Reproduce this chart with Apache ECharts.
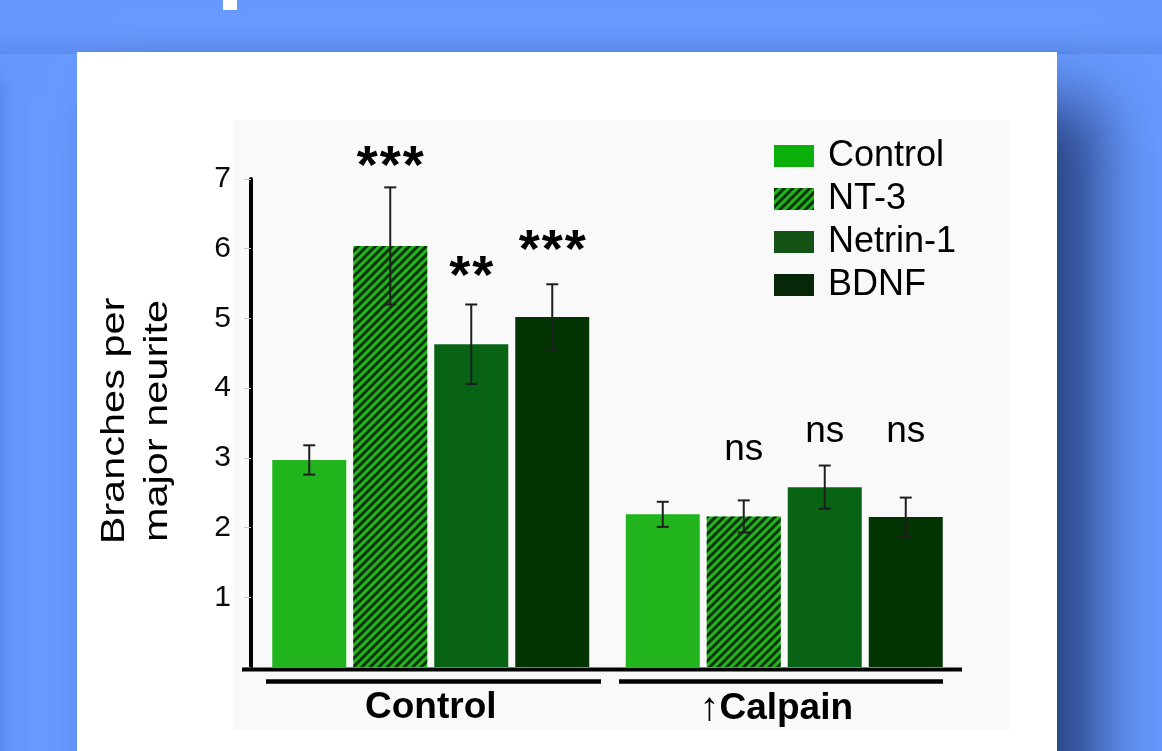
<!DOCTYPE html>
<html>
<head>
<meta charset="utf-8">
<script src="https://cdn.jsdelivr.net/npm/echarts@6/dist/echarts.min.js"></script>
<style>
  html, body { margin: 0; padding: 0; background: #6699ff; }
  #chart { width: 1162px; height: 751px; }
</style>
</head>
<body>
<div id="chart"></div>
<script>
// ---- data ----
const groups = ['Control', '↑Calpain'];
const treatments = ['Control', 'NT-3', 'Netrin-1', 'BDNF'];

const controlMeans = [2.97, 2.19];
const nt3Means     = [6.04, 2.16];
const netrinMeans  = [4.63, 2.58];
const bdnfMeans    = [5.02, 2.15];

const controlErr = [0.21, 0.18];
const nt3Err     = [0.84, 0.23];
const netrinErr  = [0.57, 0.31];
const bdnfErr    = [0.47, 0.28];

const controlSig = ['', ''];
const nt3Sig     = ['***', 'ns'];
const netrinSig  = ['**', 'ns'];
const bdnfSig    = ['***', 'ns'];

const yTicks = [1, 2, 3, 4, 5, 6, 7];

// ---- layout ----
const FONT = "'Liberation Sans', Arial, Helvetica, sans-serif";
const W = 1162, H = 751;
const GRID_L = 254, GRID_R = 961, GRID_T = 179, GRID_B = 667;
const BAR_W = 74, BAR_GAP = 7;
const STEP = BAR_W + BAR_GAP;
const STAR_PITCH = 23;
// heights (axis units) at which the significance marks sit
const SIG_Y = [[0, 0], [7.15, 3.12], [5.58, 3.37], [5.95, 3.37]];

const colors = ['#22b41c', '#22b41c', '#086414', '#033403'];
const legendColors = ['#0aaf0a', '#22b41c', '#155215', '#062806'];
const hatch = {
  symbol: 'rect', symbolSize: 1,
  dashArrayX: [1, 0], dashArrayY: [3, 3],
  rotation: -Math.PI / 4,
  color: 'rgba(12,40,12,0.92)'
};

const meansList = [controlMeans, nt3Means, netrinMeans, bdnfMeans];
const errList = [controlErr, nt3Err, netrinErr, bdnfErr];
const sigList = [controlSig, nt3Sig, netrinSig, bdnfSig];

const barSeries = treatments.map((name, k) => ({
  name, type: 'bar', barWidth: BAR_W, barGap: (BAR_GAP / BAR_W * 100) + '%',
  data: meansList[k],
  itemStyle: Object.assign({ color: colors[k] }, k === 1 ? { decal: hatch } : {}),
  z: 2
}));

const errSeries = treatments.map((name, k) => ({
  type: 'custom', name: name + ' err', z: 5, silent: true,
  encode: { x: 0, y: 1 },
  data: meansList[k].map((m, i) => [i, m, errList[k][i]]),
  renderItem: (params, api) => {
    const cat = api.value(0), m = api.value(1), e = api.value(2);
    const x = api.coord([cat, m])[0] + (k - 1.5) * STEP;
    const top = api.coord([cat, m + e])[1];
    const bot = api.coord([cat, m - e])[1];
    const ls = { stroke: '#1e1e1e', lineWidth: 2 };
    const children = [
      { type: 'line', shape: { x1: x, y1: top, x2: x, y2: bot }, style: ls },
      { type: 'line', shape: { x1: x - 6, y1: top, x2: x + 6, y2: top }, style: ls },
      { type: 'line', shape: { x1: x - 6, y1: bot, x2: x + 6, y2: bot }, style: ls }
    ];
    const s = sigList[k][params.dataIndex];
    if (s) {
      const y = api.coord([cat, SIG_Y[k][params.dataIndex]])[1];
      if (s.charAt(0) === '*') {
        // asterisks set one by one for wider spacing
        for (let j = 0; j < s.length; j++) {
          children.push({
            type: 'text', x: x + (j - (s.length - 1) / 2) * STAR_PITCH, y: y,
            style: { text: '*', fill: '#000', align: 'center', verticalAlign: 'middle',
              font: 'bold 54px ' + FONT }
          });
        }
      } else {
        children.push({
          type: 'text', x: x, y: y,
          style: { text: s, fill: '#000', align: 'center', verticalAlign: 'middle',
            font: '37px ' + FONT }
        });
      }
    }
    return { type: 'group', children };
  }
}));

const chart = echarts.init(document.getElementById('chart'));
chart.setOption({
  animation: false,
  backgroundColor: '#6699ff',
  textStyle: { fontFamily: FONT },
  grid: { left: GRID_L, right: W - GRID_R, top: GRID_T, bottom: H - GRID_B, containLabel: false },
  legend: {
    orient: 'vertical', left: 774, top: 137, padding: 0,
    itemWidth: 40, itemHeight: 22, itemGap: 5,
    icon: 'rect',
    textStyle: { fontSize: 36, color: '#000', fontFamily: FONT, lineHeight: 38, padding: [0, 0, 0, 9] },
    data: treatments.map((n, k) => ({ name: n, itemStyle: { color: legendColors[k] } }))
  },
  xAxis: {
    type: 'category', data: groups,
    axisLine: { show: false }, axisTick: { show: false },
    axisLabel: {
      margin: 22,
      formatter: v => v.charAt(0) === '↑' ? '{arr|↑}{bc|' + v.slice(1) + '}' : '{b|' + v + '}',
      rich: {
        b: { fontSize: 37, fontWeight: 'bold', color: '#000', fontFamily: FONT },
        bc: { fontSize: 37, fontWeight: 'bold', color: '#000', fontFamily: FONT, padding: [0, 16, 0, 0] },
        arr: { fontSize: 40, fontWeight: 'bold', color: '#000', fontFamily: FONT, padding: [0, 0, 0, 0] }
      }
    }
  },
  yAxis: {
    type: 'value', min: 0, max: 7, interval: 1, offset: 3,
    axisLine: { show: true, lineStyle: { color: '#000', width: 4 } },
    axisTick: { show: true, length: 7, lineStyle: { color: '#c8c8c8', width: 1 } },
    splitLine: { show: false },
    axisLabel: {
      margin: 20, fontSize: 30, color: '#0a0a0a', fontFamily: FONT,
      formatter: v => (yTicks.indexOf(v) >= 0 ? String(v) : '')
    }
  },
  graphic: [
    // blue backdrop shading and the white panel
    { type: 'rect', z: -20, shape: { x: -300, y: 80, width: 296, height: H + 200 },
      style: { fill: '#4a6cc0', shadowBlur: 22, shadowOffsetX: 0, shadowColor: 'rgba(45,75,160,0.55)' } },
    { type: 'rect', z: -19, shape: { x: 0, y: 28, width: W, height: 26 },
      style: { fill: new echarts.graphic.LinearGradient(0, 0, 0, 1, [
        { offset: 0, color: 'rgba(40,70,150,0)' }, { offset: 1, color: 'rgba(40,70,150,0.16)' }]) } },
    { type: 'rect', z: -15, shape: { x: 77, y: 52, width: 980, height: 760 },
      style: { fill: '#ffffff', shadowBlur: 60, shadowOffsetX: 42, shadowOffsetY: 50, shadowColor: 'rgba(25,45,100,0.8)' } },
    { type: 'rect', z: -14, shape: { x: 223, y: 0, width: 14, height: 10 }, style: { fill: '#ffffff' } },
    { type: 'rect', z: -13, shape: { x: 233, y: 120, width: 777, height: 610 }, style: { fill: '#f9f9f9' } },
    // baseline and group underlines
    { type: 'line', z: 10, shape: { x1: GRID_L - 12, y1: GRID_B + 2.5, x2: GRID_R + 1, y2: GRID_B + 2.5 },
      style: { stroke: '#000', lineWidth: 4 } },
    { type: 'line', z: 10, shape: { x1: 266, y1: 681.5, x2: 601, y2: 681.5 }, style: { stroke: '#000', lineWidth: 4.5 } },
    { type: 'line', z: 10, shape: { x1: 619, y1: 681.5, x2: 943, y2: 681.5 }, style: { stroke: '#000', lineWidth: 4.5 } },
    // y axis title
    { type: 'text', z: 10, x: 136, y: 421, rotation: Math.PI / 2, scaleX: 1.22,
      style: { text: 'Branches per\nmajor neurite', font: '34px ' + FONT, fill: '#000',
        align: 'center', verticalAlign: 'middle', lineHeight: 43 } }
  ],
  series: barSeries.concat(errSeries)
});
</script>
</body>
</html>
